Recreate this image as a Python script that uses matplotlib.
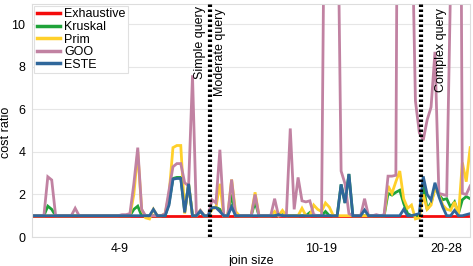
import numpy as np
import matplotlib
matplotlib.use('Agg')
import matplotlib.pyplot as plt

plt.rcParams['font.family'] = ['Liberation Sans', 'DejaVu Sans']

# cost ratio per query, queries sorted by join size
exhaustive = [1.0, 1.0, 1.0, 1.0, 1.0, 1.0, 1.0, 1.0, 1.0, 1.0,
	1.0, 1.0, 1.0, 1.0, 1.0, 1.0, 1.0, 1.0, 1.0, 1.0,
	1.0, 1.0, 1.0, 1.0, 1.0, 1.0, 1.0, 1.0, 1.0, 1.0,
	1.0, 1.0, 1.0, 1.0, 1.0, 1.0, 1.0, 1.0, 1.0, 1.0,
	1.0, 1.0, 1.0, 1.0, 1.0, 1.0, 1.0, 1.0, 1.0, 1.0,
	1.0, 1.0, 1.0, 1.0, 1.0, 1.0, 1.0, 1.0, 1.0, 1.0,
	1.0, 1.0, 1.0, 1.0, 1.0, 1.0, 1.0, 1.0, 1.0, 1.0,
	1.0, 1.0, 1.0, 1.0, 1.0, 1.0, 1.0, 1.0, 1.0, 1.0,
	1.0, 1.0, 1.0, 1.0, 1.0, 1.0, 1.0, 1.0, 1.0, 1.0,
	1.0, 1.0, 1.0, 1.0, 1.0, 1.0, 1.0, 1.0, 1.0, 1.0,
	1.0, 1.0, 1.0, 1.0, 1.0, 1.0, 1.0, 1.0, 1.0, 1.0,
	1.0, 1.0, 1.0]

kruskal = [1.0, 1.0, 1.0, 1.0, 1.45, 1.3, 1.0, 1.0, 1.0, 1.0,
	1.0, 1.0, 1.0, 1.0, 1.0, 1.0, 1.0, 1.0, 1.0, 1.0,
	1.0, 1.0, 1.0, 1.0, 1.0, 1.0, 1.3, 1.45, 1.0, 1.0,
	1.0, 1.0, 1.0, 1.0, 1.0, 1.6, 2.75, 2.8, 2.8, 1.2,
	2.5, 1.0, 1.0, 1.2, 1.0, 1.0, 1.35, 1.4, 1.3, 1.0,
	1.0, 2.0, 1.0, 1.0, 1.0, 1.0, 1.0, 1.65, 1.0, 1.0,
	1.0, 1.0, 1.0, 1.0, 1.05, 1.0, 1.0, 1.0, 1.0, 1.0,
	1.0, 1.15, 1.0, 1.0, 1.0, 1.2, 1.0, 1.0, 1.0, 2.47,
	1.6, 2.96, 1.0, 1.0, 1.0, 1.0, 1.0, 1.0, 1.0, 1.0,
	1.0, 2.05, 1.97, 2.1, 2.2, 1.58, 1.1, 1.0, 1.0, 1.0,
	2.5, 1.3, 1.6, 2.3, 2.0, 1.75, 1.8, 1.4, 1.65, 1.1,
	1.75, 1.9, 1.8]

prim = [1.0, 1.0, 1.0, 1.0, 1.0, 1.0, 1.0, 1.0, 1.0, 1.0,
	1.0, 1.0, 1.0, 1.0, 1.0, 1.0, 1.0, 1.0, 1.0, 1.0,
	1.0, 1.0, 1.0, 1.0, 1.0, 1.0, 2.0, 4.0, 1.3, 0.9,
	0.85, 1.3, 1.0, 1.0, 1.1, 2.0, 4.2, 4.3, 4.3, 1.1,
	2.5, 1.0, 1.0, 1.25, 1.0, 1.0, 1.3, 1.4, 2.5, 1.0,
	1.0, 2.7, 1.2, 1.0, 1.0, 1.0, 1.0, 2.1, 1.0, 1.0,
	1.0, 1.0, 1.2, 1.0, 1.25, 1.0, 1.0, 1.0, 1.0, 1.35,
	1.0, 1.0, 1.5, 1.3, 1.2, 1.6, 1.4, 1.0, 1.0, 1.0,
	1.0, 1.0, 1.0, 1.0, 1.0, 1.0, 1.0, 1.0, 1.0, 1.0,
	1.0, 2.4, 2.05, 2.6, 3.1, 1.8, 1.35, 1.5, 0.85, 0.9,
	2.0, 1.3, 1.5, 2.3, 2.0, 1.5, 1.3, 1.25, 1.65, 1.0,
	3.5, 2.6, 4.2]

goo = [1.0, 1.0, 1.0, 1.0, 2.83, 2.68, 1.0, 1.0, 1.0, 1.0,
	1.0, 1.35, 1.0, 1.0, 1.0, 1.0, 1.0, 1.0, 1.0, 1.0,
	1.0, 1.0, 1.0, 1.05, 1.05, 1.1, 2.5, 4.2, 1.3, 1.0,
	1.0, 1.0, 1.0, 1.0, 1.1, 2.2, 3.3, 3.45, 3.45, 2.55,
	2.4, 7.6, 1.0, 1.25, 1.0, 1.0, 1.75, 1.6, 4.1, 1.0,
	1.0, 2.7, 1.0, 1.0, 1.0, 1.0, 1.0, 2.0, 1.0, 1.0,
	1.0, 1.0, 1.8, 1.0, 1.0, 1.0, 5.1, 1.3, 2.8, 1.7,
	1.65, 1.7, 1.05, 1.0, 1.0, 22.0, 35.0, 28.0, 18.0, 3.1,
	2.5, 1.1, 1.0, 1.0, 1.0, 1.8, 1.0, 1.0, 1.05, 1.0,
	1.05, 2.86, 2.86, 2.9, 40.0, 30.0, 22.0, 16.0, 6.4, 4.9,
	4.55, 5.5, 6.1, 8.7, 2.05, 2.0, 1.95, 12.0, 30.0, 40.0,
	2.05, 2.0, 2.4]

este = [1.0, 1.0, 1.0, 1.0, 1.0, 1.0, 1.0, 1.0, 1.0, 1.0,
	1.0, 1.0, 1.0, 1.0, 1.0, 1.0, 1.0, 1.0, 1.0, 1.0,
	1.0, 1.0, 1.0, 1.0, 1.0, 1.0, 1.0, 1.0, 1.0, 1.0,
	1.0, 1.3, 1.0, 1.0, 1.0, 1.5, 2.72, 2.75, 2.75, 1.15,
	2.5, 1.0, 1.0, 1.22, 1.0, 1.0, 1.38, 1.38, 1.2, 1.0,
	1.0, 1.42, 1.0, 1.0, 1.0, 1.0, 1.0, 1.0, 1.0, 1.0,
	1.0, 1.0, 1.0, 1.05, 1.0, 1.0, 1.0, 1.0, 1.0, 1.0,
	1.0, 1.0, 1.0, 1.0, 1.0, 1.0, 1.0, 1.0, 1.0, 2.47,
	1.6, 2.96, 1.0, 1.0, 1.0, 1.27, 1.0, 1.0, 1.0, 1.0,
	1.0, 1.0, 1.0, 1.0, 1.0, 1.3, 1.0, 1.0, 1.05, 1.1,
	2.85, 2.0, 1.74, 2.55, 1.9, 1.4, 1.0, 1.0, 1.25, 1.0,
	1.0, 1.05, 1.1]

# grupos de tamano de join
grupos = ['4-9', '10-19', '20-28']
tam_grupos = [46, 54, 13]
pos_etiquetas = [22.5, 74, 106]
textos_division = [('Simple query', 'Moderate query'), (None, 'Complex query')]

series = [('Exhaustive', exhaustive, '#f40b0b'),
	('Kruskal', kruskal, '#1fa33a'),
	('Prim', prim, '#ffd02a'),
	('GOO', goo, '#c182a2'),
	('ESTE', este, '#30679b')]

fig = plt.figure(figsize=(4.73, 2.66), dpi=100)
ax = fig.add_axes([0.068, 0.109, 0.926, 0.876])

x = np.arange(len(exhaustive))
for nombre, valores, color in series:
	ax.plot(x, valores, color=color, lw=2.0, label=nombre, solid_joinstyle='miter')

ax.set_xlim(0, len(x) - 1)
ax.set_ylim(0, 10.95)
ax.set_yticks([0, 2, 4, 6, 8, 10])
ax.set_xticks(pos_etiquetas)
ax.set_xticklabels(grupos)
ax.tick_params(axis='y', length=0, labelsize=9, pad=5)
ax.tick_params(axis='x', length=0, labelsize=9, pad=4)
ax.yaxis.grid(True, color='#e6e6e6', lw=0.8)
ax.set_axisbelow(True)
for s in ax.spines.values():
	s.set_color('#dddddd')
	s.set_linewidth(0.8)

ax.set_xlabel('join size', fontsize=9, labelpad=0)
ax.set_ylabel('cost ratio', fontsize=9)
ax.yaxis.set_label_coords(-0.046, 0.45)

# lineas divisorias entre grupos
limites = np.cumsum(tam_grupos)[:-1] - 0.5
for lim, (izq, der) in zip(limites, textos_division):
	ax.axvline(lim, color='black', lw=3, ls=(0, (0.6, 0.6)), zorder=5)
	if izq:
		ax.annotate(izq, (lim, 10.85), xytext=(-3, 0), textcoords='offset points',
			rotation=90, ha='right', va='top', fontsize=9)
	if der:
		off = 3 if izq else 10
		ax.annotate(der, (lim, 10.75), xytext=(off, 0), textcoords='offset points',
			rotation=90, ha='left', va='top', fontsize=9)

leg = ax.legend(loc='upper left', fontsize=9, handlelength=1.9, handletextpad=0.3,
	labelspacing=0.05, borderpad=0.2, borderaxespad=0.15, fancybox=False, framealpha=1)
leg.get_frame().set_edgecolor('#e0e0e0')
leg.get_frame().set_linewidth(0.8)
for l in leg.get_lines():
	l.set_linewidth(2.5)

fig.savefig('out.png', dpi=100)
